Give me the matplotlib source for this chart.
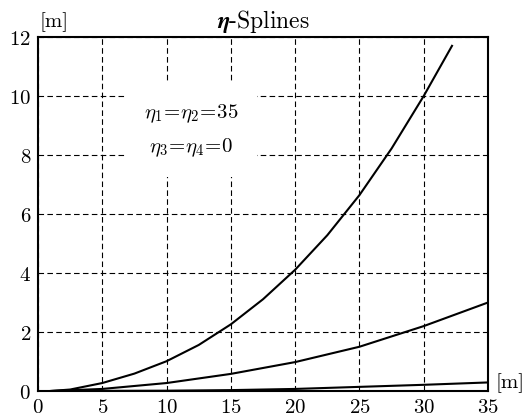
import numpy as np
import matplotlib
matplotlib.use("Agg")
import matplotlib.pyplot as plt

plt.rcParams['font.family'] = 'serif'
plt.rcParams['font.serif'] = ['cmr10', 'DejaVu Serif']
plt.rcParams['mathtext.fontset'] = 'cm'
plt.rcParams['axes.formatter.use_mathtext'] = True

# Data
steep_x = [1, 2.5, 5, 7.5, 10, 12.5, 15, 17.5, 20, 22.5, 25, 27.5, 30, 32.2]
steep_y = [0, 0.05, 0.27, 0.59, 1.01, 1.56, 2.26, 3.11, 4.11, 5.28, 6.64, 8.22, 10.0, 11.7]
mid_x = [1, 5, 10, 15, 20, 25, 30, 35]
mid_y = [0, 0.07, 0.27, 0.58, 0.98, 1.50, 2.20, 3.00]
low_x = [1, 10, 15, 20, 25, 30, 35]
low_y = [0, 0.01, 0.03, 0.07, 0.14, 0.21, 0.29]
xticks = [0, 5, 10, 15, 20, 25, 30, 35]
yticks = [0, 2, 4, 6, 8, 10, 12]

fig = plt.figure(figsize=(5.24, 4.14), dpi=100)
ax = fig.add_axes([38/524, 22/414, 450/524, 354/414])

for xs, ys in [(steep_x, steep_y), (mid_x, mid_y), (low_x, low_y)]:
    ax.plot(xs, ys, color='black', lw=1.5)

ax.set_xlim(0, 35)
ax.set_ylim(0, 12)
ax.set_xticks(xticks)
ax.set_yticks(yticks)
ax.tick_params(length=0, labelsize=15, pad=5)
ax.grid(True, color='black', ls=(0, (5, 3)), lw=0.8)
for s in ax.spines.values():
    s.set_linewidth(1.5)

ax.set_title(r'$\mathbfit{\eta}$-Splines', fontsize=17, math_fontfamily='stix', pad=7)
fig.text(40/524, 1 - 22/414, '[m]', fontsize=15, ha='left', va='center')
fig.text(495/524, 1 - 383/414, '[m]', fontsize=15, ha='left', va='center')
ax.text(11.9, 8.85, r'$\eta_1\!=\!\eta_2\!=\!35$' + '\n' + r'$\eta_3\!=\!\eta_4\!=\!0$',
        fontsize=15, ha='center', va='center', multialignment='center', linespacing=1.75,
        bbox=dict(boxstyle='square,pad=0.9', fc='white', ec='none'), zorder=3)

fig.savefig('out.png', dpi=100)
